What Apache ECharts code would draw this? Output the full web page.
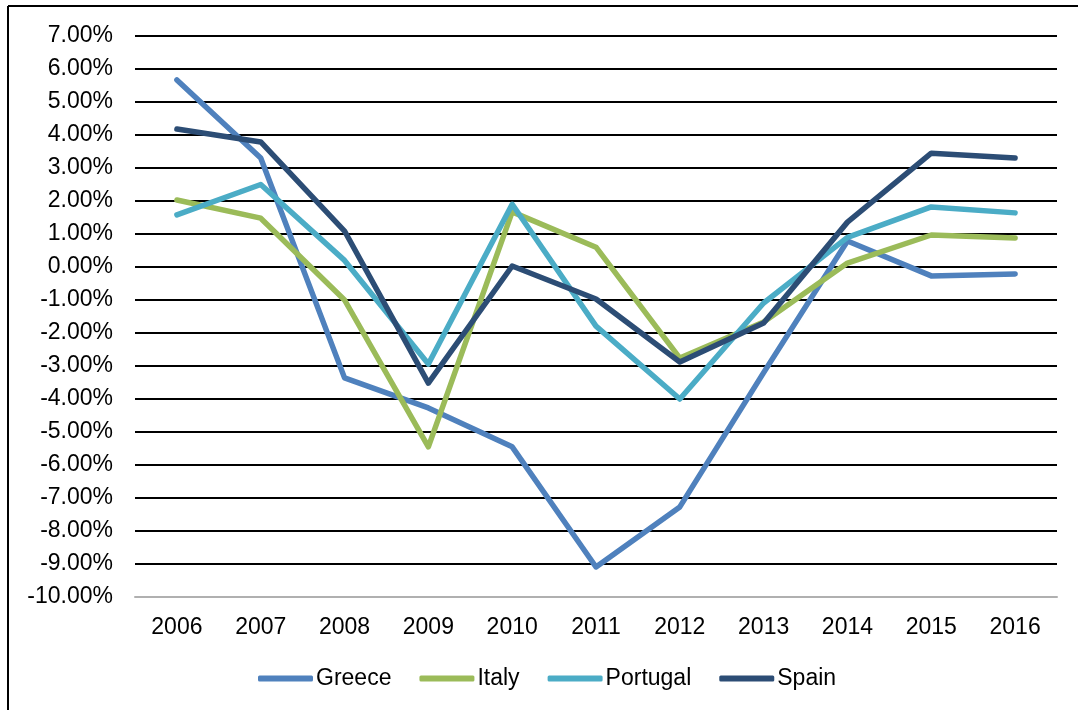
<!DOCTYPE html>
<html>
<head>
<meta charset="utf-8">
<script src="https://cdn.jsdelivr.net/npm/echarts@6/dist/echarts.min.js"></script>
<style>html,body{margin:0;padding:0;background:#fff}#c{width:1078px;height:710px}</style>
</head>
<body>
<div id="c"></div>
<script>
const years = ['2006','2007','2008','2009','2010','2011','2012','2013','2014','2015','2016'];
const greece = [5.67, 3.30, -3.36, -4.27, -5.45, -9.09, -7.27, -3.2, 0.79, -0.27, -0.21];
const italy = [2.03, 1.48, -1.0, -5.45, 1.67, 0.6, -2.76, -1.67, 0.12, 0.97, 0.88];
const portugal = [1.58, 2.5, 0.2, -2.94, 1.9, -1.79, -4.0, -1.09, 0.9, 1.82, 1.64];
const spain = [4.18, 3.79, 1.09, -3.52, 0.03, -0.97, -2.88, -1.7, 1.36, 3.45, 3.3];
const seriesNames = ['Greece','Italy','Portugal','Spain'];
const colors = ['#4F81BD','#9BBB59','#4BACC6','#2C4D75'];

const chart = echarts.init(document.getElementById('c'));
const font = 'Liberation Sans, Arial, sans-serif';
const mk = (name, data, i) => ({
  name, type: 'line', data, symbol: 'none', smooth: false,
  lineStyle: {width: 5.5, color: colors[i], cap: 'round', join: 'round'},
  itemStyle: {color: colors[i]}, z: 3 + i
});
chart.setOption({
  animation: false,
  color: colors,
  graphic: [
    {type: 'line', shape: {x1: 8, y1: 6, x2: 8, y2: 710}, style: {stroke: '#000', lineWidth: 2}},
    {type: 'line', shape: {x1: 8, y1: 6, x2: 1078, y2: 6}, style: {stroke: '#000', lineWidth: 2}}
  ],
  grid: {left: 135, right: 21, top: 36, bottom: 113},
  legend: {
    top: 662, left: 253, itemWidth: 55, itemHeight: 6, itemGap: 28,
    icon: 'roundRect',
    textStyle: {fontFamily: font, fontSize: 23, color: '#000', padding: [0,0,0,-2]},
    data: seriesNames
  },
  xAxis: {
    type: 'category', data: years, boundaryGap: true,
    axisLine: {onZero: false, lineStyle: {color: '#b0b0b0', width: 2}},
    axisTick: {show: false},
    axisLabel: {fontFamily: font, fontSize: 23, color: '#000', margin: 19}
  },
  yAxis: {
    type: 'value', min: -10, max: 7, interval: 1,
    axisLine: {show: false}, axisTick: {show: false},
    axisLabel: {fontFamily: font, fontSize: 23, color: '#000', margin: 22,
      formatter: v => v.toFixed(2) + '%'},
    splitLine: {lineStyle: {color: '#000', width: 2}}
  },
  series: [mk('Greece', greece, 0), mk('Italy', italy, 1), mk('Portugal', portugal, 2), mk('Spain', spain, 3)]
});
</script>
</body>
</html>
